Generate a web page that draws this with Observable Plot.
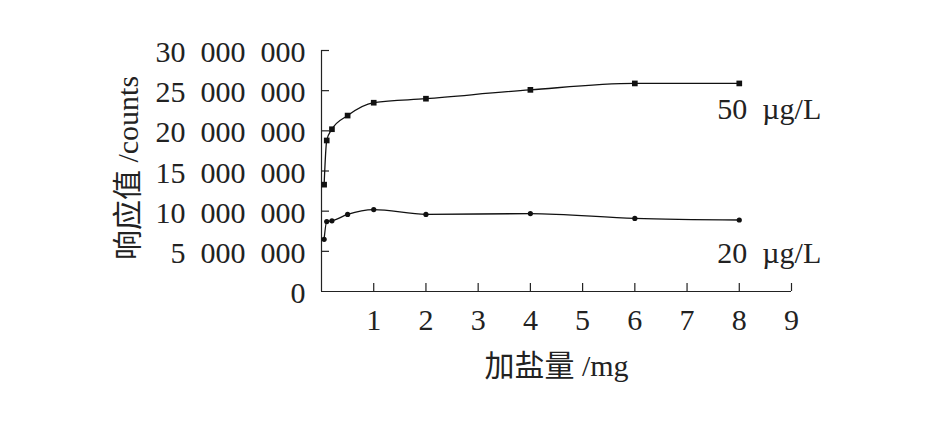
<!DOCTYPE html>
<html><head><meta charset="utf-8">
<script src="https://cdn.jsdelivr.net/npm/d3@7"></script>
<script src="https://cdn.jsdelivr.net/npm/@observablehq/plot@0.6"></script>
<style>body{margin:0;background:#fff}</style>
</head><body><div id="chart"></div>
<script>
const salt = [0.05, 0.1, 0.2, 0.5, 1, 2, 4, 6, 8];
const resp50 = [13300000, 18800000, 20200000, 21900000, 23500000, 24000000, 25100000, 25900000, 25900000];
const resp20 = [6500000, 8700000, 8800000, 9600000, 10200000, 9600000, 9700000, 9100000, 8900000];
const seriesNames = ["50\u2002µg/L", "20\u2002µg/L"];
const xTicks = [1, 2, 3, 4, 5, 6, 7, 8, 9];
const yTicks = [0, 5000000, 10000000, 15000000, 20000000, 25000000, 30000000];
const xTitle = "加盐量 /mg";
const yTitle = "响应值 /counts";

const fmt = d => d === 0 ? "0" : d3.format(",")(d).replace(/,/g, "\u2002");
const rows50 = salt.map((x, i) => ({x, y: resp50[i]}));
const rows20 = salt.map((x, i) => ({x, y: resp20[i]}));
const last50 = [rows50[rows50.length - 1]];
const last20 = [rows20[rows20.length - 1]];
const font = "'Liberation Serif', 'Noto Sans CJK SC', serif";

const chart = Plot.plot({
  width: 945, height: 425,
  marginLeft: 321, marginRight: 154, marginTop: 50, marginBottom: 134,
  x: {domain: [0, 9], axis: null},
  y: {domain: [0, 30000000], axis: null},
  style: {fontFamily: font, fontSize: "30px", background: "#fff", color: "#222"},
  marks: [
    Plot.ruleX([0], {stroke: "#222", strokeWidth: 1.2}),
    Plot.ruleY([0], {stroke: "#222", strokeWidth: 1.2}),
    Plot.tickX(xTicks, {x: d => d, insetTop: 233, stroke: "#222", strokeWidth: 1.2}),
    Plot.tickY(yTicks.filter(d => d > 0), {y: d => d, insetRight: 462, stroke: "#222", strokeWidth: 1.2}),
    Plot.text(xTicks, {x: d => d, y: 0, text: d => String(d), dy: 29, fontSize: 30, fill: "#222"}),
    Plot.text(yTicks, {x: 0, y: d => d, text: fmt, textAnchor: "end", dx: -16, dy: 2, fontSize: 30, fill: "#222"}),
    Plot.line(rows50, {x: "x", y: "y", curve: "monotone-x", stroke: "#111", strokeWidth: 1.3}),
    Plot.line(rows20, {x: "x", y: "y", curve: "monotone-x", stroke: "#111", strokeWidth: 1.3}),
    Plot.dot(rows50, {x: "x", y: "y", symbol: "square", r: 3.2, fill: "#111", stroke: "none"}),
    Plot.dot(rows20, {x: "x", y: "y", symbol: "circle", r: 2.6, fill: "#111", stroke: "none"}),
    Plot.text(last50, {x: "x", y: "y", text: () => seriesNames[0], textAnchor: "start", dx: -22, dy: 26, fontSize: 30, fill: "#222"}),
    Plot.text(last20, {x: "x", y: "y", text: () => seriesNames[1], textAnchor: "start", dx: -22, dy: 33, fontSize: 30, fill: "#222"}),
    Plot.text([xTitle], {frameAnchor: "bottom", textAnchor: "middle", lineAnchor: "middle", dy: 75, fontSize: 30, fill: "#222"}),
    Plot.text([yTitle], {frameAnchor: "left", textAnchor: "middle", lineAnchor: "middle", rotate: -90, dx: -193, dy: -3, fontSize: 30, fill: "#222"})
  ]
});
document.getElementById("chart").append(chart);
</script>
</body></html>
